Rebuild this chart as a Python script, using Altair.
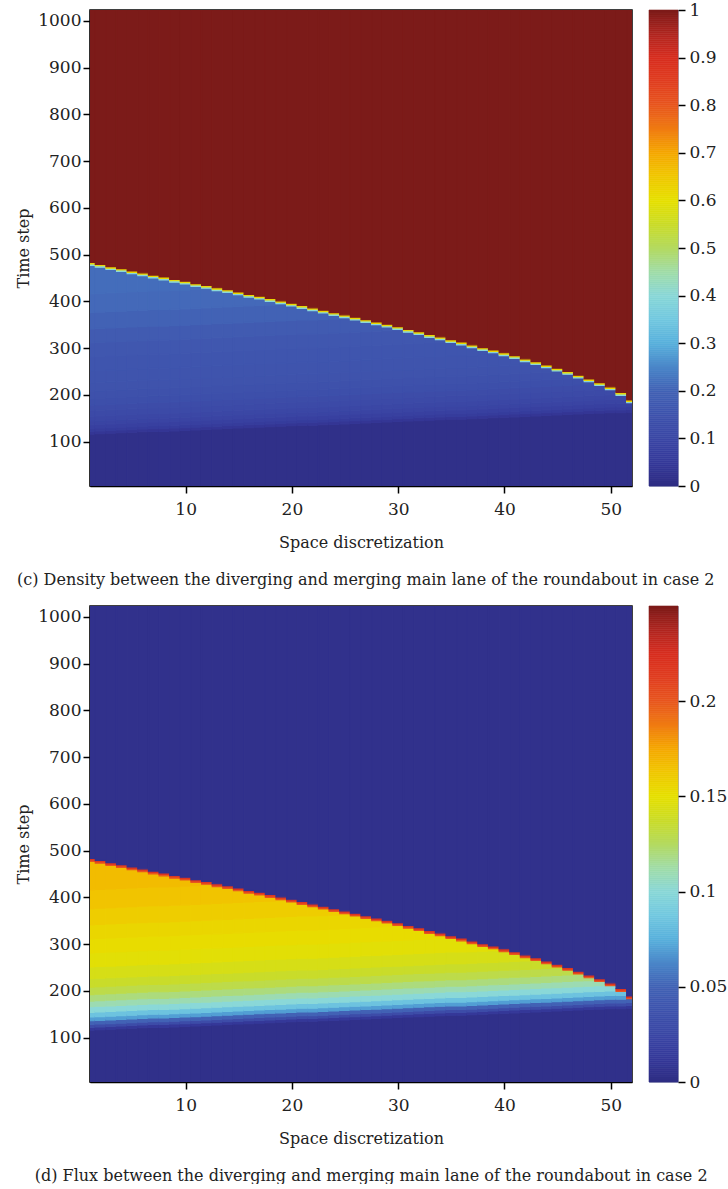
import altair as alt
import pandas as pd

# Road cells along the main lane between the diverging and merging points
cells = list(range(1, 53))

# Time step at which the jam front (queue tail) reaches each cell
front_step = [
    480, 476, 471, 467, 462, 458, 453, 449, 444, 440,
    435, 431, 426, 422, 417, 412, 408, 403, 398, 393,
    388, 383, 378, 373, 368, 363, 358, 353, 348, 343,
    337, 332, 326, 321, 315, 310, 304, 298, 293, 287,
    281, 274, 268, 261, 254, 247, 239, 231, 223, 214,
    202, 186,
]

# Time step at which the incoming traffic wave reaches each cell
onset_step = [
    116, 117, 118, 119, 120, 121, 122, 122, 123, 124,
    125, 126, 127, 128, 129, 130, 131, 132, 133, 134,
    135, 135, 136, 137, 138, 139, 140, 141, 142, 143,
    144, 145, 146, 147, 148, 148, 149, 150, 151, 152,
    153, 154, 155, 156, 157, 158, 159, 160, 161, 162,
    162, 163,
]

# Free-flow profile behind the incoming wave (time steps after onset)
profile_offset = [0, 6, 12, 20, 28, 38, 50, 62, 76, 92, 110, 135, 165, 195, 225, 260, 300]
density_profile = [0.04, 0.06, 0.075, 0.09, 0.10, 0.11, 0.12, 0.13, 0.14, 0.145,
                   0.15, 0.155, 0.16, 0.175, 0.20, 0.21, 0.215]
flux_profile = [0.012, 0.03, 0.05, 0.07, 0.085, 0.10, 0.11, 0.12, 0.13, 0.137,
                0.143, 0.148, 0.152, 0.155, 0.16, 0.164, 0.167]

# Values before the wave, on both sides of the shock, and inside the jam
density_levels = {"empty": 0.015, "shock_low": 0.4, "shock_high": 0.62, "jam": 1.0}
flux_levels = {"empty": 0.004, "shock_low": 0.2, "shock_high": 0.22, "jam": 0.005}

density_ticks = [0, 0.1, 0.2, 0.3, 0.4, 0.5, 0.6, 0.7, 0.8, 0.9, 1]
flux_ticks = [0, 0.05, 0.1, 0.15, 0.2]

jet_colors = [
    "#2e2c82", "#35399a", "#3b47a5", "#3f54ad", "#4262b5", "#4a86c8", "#58b0dc",
    "#72c8e0", "#8ad8d8", "#a0dca8", "#b4da60", "#cadc28", "#e6e000", "#f0c800",
    "#f5a800", "#f07c12", "#e8561e", "#e03e20", "#d82e20", "#b02620", "#7c1b19",
]

T_MIN, T_MAX = 5, 1023
X_MIN, X_MAX = 1, 52
SHOCK = 3

FONT = "DejaVu Serif"
INK = "#222222"


def field_rows(profile, levels):
    rows = []
    for i, c in enumerate(cells):
        x0, x1 = max(X_MIN, c - 0.5), min(X_MAX, c + 0.5)
        f, o = front_step[i], onset_step[i]
        top_free = f - SHOCK
        rows.append((x0, x1, T_MIN, o, levels["empty"]))
        for k, off in enumerate(profile_offset):
            t0 = o + off
            if t0 >= top_free:
                break
            t1 = o + profile_offset[k + 1] if k + 1 < len(profile_offset) else top_free
            rows.append((x0, x1, t0, min(t1, top_free), profile[k]))
        rows.append((x0, x1, top_free, f, levels["shock_low"]))
        rows.append((x0, x1, f, f + SHOCK, levels["shock_high"]))
        rows.append((x0, x1, f + SHOCK, T_MAX, levels["jam"]))
    return pd.DataFrame(rows, columns=["x0", "x1", "t0", "t1", "v"])


def color_scale(vmax):
    n = len(jet_colors) - 1
    return alt.Scale(domain=[vmax * k / n for k in range(n + 1)], range=jet_colors,
                     interpolate="rgb", clamp=True)


def heatmap(df, vmax):
    sc = color_scale(vmax)
    return alt.Chart(df).mark_rect(clip=True, strokeWidth=1.2).encode(
        x=alt.X("x0:Q", scale=alt.Scale(domain=[X_MIN, X_MAX], nice=False, zero=False),
                axis=alt.Axis(values=[10, 20, 30, 40, 50], title="Space discretization",
                              grid=False, domainColor="black", domainWidth=1.5,
                              tickColor="black", tickSize=7, tickWidth=1.5,
                              labelFont=FONT, labelFontSize=17, labelColor=INK, labelPadding=8,
                              titleFont=FONT, titleFontSize=16, titleFontWeight="normal",
                              titleColor=INK, titlePadding=17)),
        x2="x1:Q",
        y=alt.Y("t0:Q", scale=alt.Scale(domain=[T_MIN, T_MAX], nice=False, zero=False),
                axis=alt.Axis(values=[100, 200, 300, 400, 500, 600, 700, 800, 900, 1000],
                              format="d", title="Time step", grid=False, domainColor="black",
                              domainWidth=1.5, tickColor="black", tickSize=7, tickWidth=1.5,
                              labelFont=FONT, labelFontSize=17, labelColor=INK, labelPadding=2,
                              titleFont=FONT, titleFontSize=16, titleFontWeight="normal",
                              titleColor=INK, titlePadding=6)),
        y2="t1:Q",
        color=alt.Color("v:Q", scale=sc, legend=None),
        stroke=alt.Stroke("v:Q", scale=sc, legend=None),
    ).properties(width=542, height=476,
                 view=alt.ViewBackground(stroke="black", strokeWidth=1.5))


def colorbar(vmax, ticks):
    sc = color_scale(vmax)
    steps = 240
    bar = pd.DataFrame({
        "v0": [vmax * k / steps for k in range(steps)],
        "v1": [vmax * (k + 1) / steps for k in range(steps)],
    })
    bar["v"] = (bar["v0"] + bar["v1"]) / 2
    return alt.Chart(bar).mark_rect(strokeWidth=0.6).encode(
        x=alt.value(0),
        x2=alt.value(29),
        y=alt.Y("v0:Q", scale=alt.Scale(domain=[0, vmax], nice=False, zero=False),
                axis=alt.Axis(orient="right", values=ticks, format="~g", title=None,
                              grid=False, domain=False, tickColor="black", tickSize=7,
                              tickWidth=1.5, labelFont=FONT, labelFontSize=17,
                              labelColor=INK, labelPadding=4)),
        y2="v1:Q",
        color=alt.Color("v:Q", scale=sc, legend=None),
        stroke=alt.Stroke("v:Q", scale=sc, legend=None),
    ).properties(width=29, height=476,
                 view=alt.ViewBackground(stroke="#a8acc4", strokeWidth=1))


def caption(text):
    return alt.TitleParams(text, orient="bottom", anchor="middle", font=FONT, fontSize=16,
                           fontWeight="normal", color=INK, offset=21)


density = field_rows(density_profile, density_levels)
flux = field_rows(flux_profile, flux_levels)

row_density = alt.hconcat(heatmap(density, 1.0), colorbar(1.0, density_ticks), spacing=15)\
    .resolve_scale(color="independent", stroke="independent", y="independent")\
    .properties(title=caption("(c) Density between the diverging and merging main lane of the roundabout in case 2"))

row_flux = alt.hconcat(heatmap(flux, 0.25), colorbar(0.25, flux_ticks), spacing=15)\
    .resolve_scale(color="independent", stroke="independent", y="independent")\
    .properties(title=caption("(d) Flux between the diverging and merging main lane of the roundabout in case 2"))

chart = alt.vconcat(row_density, row_flux, spacing=17)\
    .resolve_scale(color="independent", stroke="independent", x="independent", y="independent")\
    .properties(padding={"left": 14, "top": 0, "right": 0, "bottom": 0}, background="white")

chart.save("out.html", embed_options={"renderer": "svg", "actions": False})
